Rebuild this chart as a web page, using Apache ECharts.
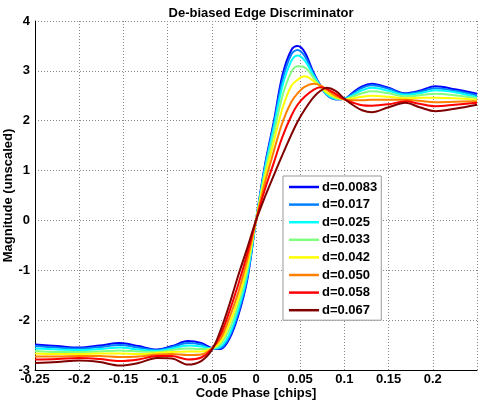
<!DOCTYPE html>
<html>
<head>
<meta charset="utf-8">
<script src="https://cdn.jsdelivr.net/npm/echarts@6/dist/echarts.min.js"></script>
<style>
html,body{margin:0;padding:0;background:#fff;}
#c{width:480px;height:404px;}
</style>
</head>
<body>
<div id="c"></div>
<script>
const xs = [-0.25,-0.225,-0.2,-0.177,-0.154,-0.133,-0.112,-0.095,-0.077,-0.062,-0.05,-0.04,-0.03,-0.02,-0.01,0,0.01,0.02,0.03,0.04,0.047,0.055,0.065,0.073,0.08,0.09,0.1,0.11,0.12,0.131,0.15,0.169,0.185,0.203,0.225,0.25];

const names = ['d=0.0083','d=0.017','d=0.025','d=0.033','d=0.042','d=0.050','d=0.058','d=0.067'];
const colors = ['#0000ff','#0080ff','#00ffff','#80ff80','#ffff00','#ff8000','#ff0000','#800000'];

const d0083 = [-2.49,-2.52,-2.55,-2.51,-2.46,-2.52,-2.59,-2.52,-2.42,-2.46,-2.56,-2.58,-2.37,-1.9,-1.2,0,1.1,1.97,2.92,3.42,3.5,3.38,2.97,2.7,2.52,2.43,2.44,2.57,2.69,2.74,2.66,2.55,2.6,2.69,2.63,2.54];
const d017 = [-2.52,-2.55,-2.57,-2.54,-2.5,-2.55,-2.6,-2.54,-2.46,-2.49,-2.57,-2.56,-2.33,-1.85,-1.16,0,1.07,1.92,2.82,3.33,3.42,3.3,2.94,2.69,2.52,2.43,2.44,2.55,2.66,2.71,2.64,2.54,2.58,2.65,2.6,2.51];
const d025 = [-2.57,-2.59,-2.6,-2.58,-2.55,-2.59,-2.62,-2.57,-2.51,-2.53,-2.57,-2.53,-2.28,-1.78,-1.1,0,1.02,1.85,2.7,3.2,3.31,3.21,2.91,2.69,2.53,2.44,2.44,2.52,2.61,2.66,2.6,2.52,2.55,2.61,2.57,2.47];
const d033 = [-2.62,-2.64,-2.64,-2.63,-2.61,-2.63,-2.64,-2.6,-2.57,-2.58,-2.57,-2.48,-2.18,-1.68,-1.01,0,0.95,1.72,2.5,2.98,3.09,3.07,2.86,2.68,2.55,2.45,2.43,2.49,2.55,2.59,2.55,2.49,2.51,2.54,2.51,2.45];
const d042 = [-2.67,-2.68,-2.68,-2.67,-2.67,-2.68,-2.66,-2.64,-2.63,-2.63,-2.57,-2.43,-2.07,-1.57,-0.92,0,0.87,1.57,2.25,2.7,2.82,2.89,2.8,2.68,2.57,2.47,2.43,2.45,2.48,2.5,2.48,2.45,2.46,2.46,2.45,2.42];
const d050 = [-2.73,-2.73,-2.72,-2.72,-2.74,-2.73,-2.69,-2.68,-2.7,-2.69,-2.57,-2.37,-1.95,-1.44,-0.8,0,0.75,1.38,1.97,2.38,2.55,2.68,2.74,2.71,2.62,2.5,2.43,2.41,2.41,2.42,2.42,2.42,2.4,2.37,2.38,2.39];
const d058 = [-2.79,-2.78,-2.76,-2.78,-2.82,-2.79,-2.72,-2.72,-2.79,-2.75,-2.58,-2.29,-1.82,-1.28,-0.68,0,0.62,1.15,1.68,2.1,2.32,2.48,2.62,2.67,2.64,2.54,2.43,2.36,2.31,2.3,2.33,2.39,2.34,2.29,2.32,2.36];
const d067 = [-2.86,-2.84,-2.81,-2.84,-2.91,-2.86,-2.76,-2.77,-2.89,-2.82,-2.6,-2.2,-1.68,-1.1,-0.56,0,0.47,0.9,1.32,1.72,1.98,2.22,2.47,2.6,2.66,2.6,2.44,2.31,2.21,2.17,2.27,2.36,2.27,2.19,2.24,2.32];

const allY = [d0083,d017,d025,d033,d042,d050,d058,d067];

const font = 'Liberation Sans, Arial, Helvetica, sans-serif';
const chart = echarts.init(document.getElementById('c'));

chart.setOption({
  animation: false,
  backgroundColor: '#ffffff',
  title: {
    text: 'De-biased Edge Discriminator',
    left: 256, top: 2, textAlign: 'center',
    textStyle: {fontFamily: font, fontSize: 13, fontWeight: 'bold', color: '#000'}
  },
  grid: {left: 35, right: 3, top: 21, bottom: 34, containLabel: false, outerBoundsMode: 'none'},
  legend: {
    orient: 'vertical',
    left: 283, top: 176,
    width: 100,
    padding: [4, 4, 3, 6],
    icon: 'rect',
    itemWidth: 30, itemHeight: 2.5, itemGap: 3.6,
    backgroundColor: '#fff',
    borderColor: '#999', borderWidth: 1,
    textStyle: {fontFamily: font, fontSize: 13, fontWeight: 'bold', color: '#000', lineHeight: 14, padding: [0,0,0,-2]},
    data: names
  },
  xAxis: {
    type: 'value', min: -0.25, max: 0.25, interval: 0.05,
    name: 'Code Phase [chips]', nameLocation: 'middle', nameGap: 17, nameMoveOverlap: false,
    nameTextStyle: {fontFamily: font, fontSize: 13, fontWeight: 'bold', color: '#000'},
    axisLine: {show: true, onZero: false, lineStyle: {color: '#000', width: 1}},
    axisTick: {show: false},
    axisLabel: {fontFamily: font, fontSize: 13, fontWeight: 'bold', color: '#000', margin: 3, showMaxLabel: false,
      formatter: v => String(Math.round(v*100)/100)},
    splitLine: {show: true, lineStyle: {color: '#888', type: [1, 2], width: 1}}
  },
  yAxis: {
    type: 'value', min: -3, max: 4, interval: 1,
    name: 'Magnitude (unscaled)', nameLocation: 'middle', nameGap: 20, nameMoveOverlap: false,
    nameTextStyle: {fontFamily: font, fontSize: 13, fontWeight: 'bold', color: '#000'},
    axisLine: {show: true, onZero: false, lineStyle: {color: '#000', width: 1}},
    axisTick: {show: false},
    axisLabel: {fontFamily: font, fontSize: 13, fontWeight: 'bold', color: '#000', margin: 5},
    splitLine: {show: true, lineStyle: {color: '#888', type: [1, 2], width: 1}}
  },
  series: allY.map((ys, k) => ({
    name: names[k],
    type: 'line',
    smooth: 0.35,
    symbol: 'none',
    color: colors[k],
    itemStyle: {color: colors[k]},
    lineStyle: {width: 2, color: colors[k]},
    data: xs.map((x, i) => [x, ys[i]])
  }))
});
</script>
</body>
</html>
